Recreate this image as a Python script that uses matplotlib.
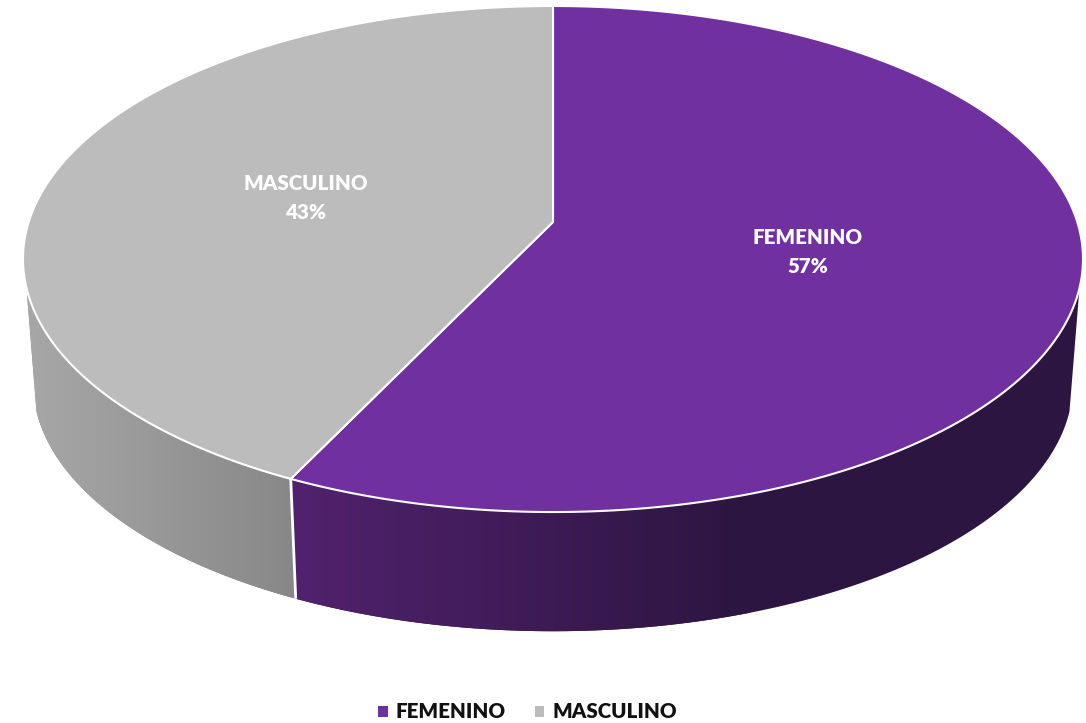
import numpy as np
import matplotlib
matplotlib.use("Agg")
import matplotlib.pyplot as plt
from matplotlib.colors import LinearSegmentedColormap
from matplotlib.patches import Patch, Polygon

categories = ["FEMENINO", "MASCULINO"]
values = [57.15, 42.85]
top_colors = ["#7030A0", "#BCBCBC"]
wall_colors = [("#52226F", "#2C1540", 286, 750), ("#A8A8A8", "#878787", 20, 302)]

# projected disc, everything is in pixels of the 1086x723 picture
cx, cy = 553, 222
a, b, k = 524.3, 247.6, 0.1463
mid_y = 259
wall_scale = 0.981
wall_mid_y = 383
wall_start, wall_end = 104.9, 255.1

plt.rcParams['font.family'] = ['Lato', 'DejaVu Sans']


def top_face(deg):
	# deg runs clockwise from twelve o'clock
	t = np.radians(deg)
	u, v = np.sin(t), np.cos(t)
	d = 1 + k * v
	return cx + a * u / d, cy - b * v / d


def lower_face(deg):
	x, y = top_face(deg)
	return cx + wall_scale * (x - cx), wall_mid_y + wall_scale * (y - mid_y)


fig = plt.figure(figsize=(10.86, 7.23), dpi=100)
ax = fig.add_axes([0, 0, 1, 1])

edges = np.cumsum([0] + values) / sum(values) * 360

# side wall, a gradient image clipped to the wall outline
for i in range(len(values)):
	lo = max(edges[i], wall_start)
	hi = min(edges[i + 1], wall_end)
	angles = np.linspace(lo, hi, 200)
	tx, ty = top_face(angles)
	bx, by = lower_face(angles)
	pts = list(zip(tx, ty)) + list(zip(bx[::-1], by[::-1]))
	c1, c2, x1, x2 = wall_colors[i]
	cmap = LinearSegmentedColormap.from_list("wall", [c1, c2])
	grad = np.linspace(0, 1, 256).reshape(1, -1)
	im = ax.imshow(grad, cmap=cmap, extent=(x1, x2, 723, 0), aspect="auto", zorder=1, interpolation="bilinear")
	# keep the end colours going past the gradient range
	ax.add_patch(Polygon(pts, closed=True, fc=c2, ec="none", zorder=0.5))
	im.set_clip_path(Polygon(pts, closed=True, transform=ax.transData))

ax.set_xlim(0, 1086)
ax.set_ylim(723, 0)
ax.axis("off")

# white seam between the two walls
for e in edges[1:-1]:
	p, q = top_face(e), lower_face(e)
	ax.plot([p[0], q[0]], [p[1], q[1]], color="white", lw=2, zorder=2, solid_capstyle="butt")

# top face
for i in range(len(values)):
	angles = np.linspace(edges[i], edges[i + 1], 300)
	xs, ys = top_face(angles)
	pts = [(cx, cy)] + list(zip(xs, ys))
	ax.add_patch(Polygon(pts, closed=True, fc=top_colors[i], ec="white", lw=1.5, joinstyle="miter", zorder=3))

label_pos = [(808, 252), (306, 198)]
for i in range(len(values)):
	ax.text(label_pos[i][0], label_pos[i][1], "%s\n%.0f%%" % (categories[i], values[i]), color="white",
		fontsize=14.8, fontweight=800, ha="center", va="center", linespacing=1.62, zorder=4)

handles = [Patch(fc=top_colors[i], ec="none", label=categories[i]) for i in range(len(values))]
ax.legend(handles=handles, loc="center", bbox_to_anchor=(527.5 / 1086, 1 - 712 / 723), ncol=2, frameon=False,
	prop={"size": 14.8, "weight": 800}, labelcolor="#111111", handlelength=0.45, handleheight=0.45,
	handletextpad=0.37, columnspacing=1.45, borderpad=0, borderaxespad=0)

fig.savefig("out.png", dpi=100)
